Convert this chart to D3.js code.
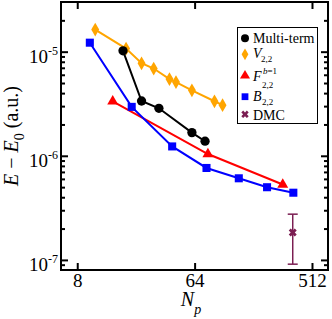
<!DOCTYPE html>
<html>
<head>
<meta charset="utf-8">
<script src="https://cdn.jsdelivr.net/npm/d3@7"></script>
<style>
  html, body { margin: 0; padding: 0; background: #fff; }
  svg { display: block; font-family: "Liberation Serif", "DejaVu Serif", serif; }
</style>
</head>
<body>
<svg id="chart" width="332" height="319"></svg>
<script>
// ---- Data ----
const multiN = [18, 25, 34, 61, 77];
const multiE = [1.02e-5, 3.36e-6, 2.86e-6, 1.67e-6, 1.38e-6];

const vN = [11, 19, 25, 31, 41, 46, 61, 91, 105];
const vE = [1.63e-5, 1.07e-5, 7.74e-6, 6.89e-6, 5.45e-6, 5.1e-6, 4.25e-6, 3.34e-6, 3.06e-6];

const fN = [15, 81, 305];
const fE = [3.34e-6, 1.04e-6, 5.3e-7];

const bN = [10, 21, 43, 79, 140, 231, 368];
const bE = [1.22e-5, 2.95e-6, 1.23e-6, 7.64e-7, 6.08e-7, 4.99e-7, 4.42e-7];

const dmcN = [364];
const dmcE = [1.83e-7];
const dmcErr = [0.92e-7];

const xTicks = [8, 64, 512];
const yTicks = [1e-7, 1e-6, 1e-5];
const yTickExp = ["-7", "-6", "-5"];

// ---- Layout ----
const svg = d3.select("#chart");
const M = { left: 61, right: 328, top: 2, bottom: 270 };

const x = d3.scaleLog().base(2).domain([6, 680]).range([M.left, M.right]);
const y = d3.scaleLog().domain([8e-8, 3e-5]).range([M.bottom, M.top]);

const yMinor = [];
[-8, -7, -6, -5].forEach((e) => {
  for (let k = 2; k <= 9; k++) {
    const v = k * Math.pow(10, e);
    if (v > 8e-8 && v < 3e-5) yMinor.push(v);
  }
});

// ---- Axes (ticks point inward) ----
const axisG = svg.append("g");

axisG.append("g")
  .attr("transform", `translate(0,${M.bottom})`)
  .call(d3.axisBottom(x).tickValues(xTicks).tickSizeInner(-7).tickSizeOuter(0).tickPadding(3.5).tickFormat(d3.format("d")))
  .call((g) => {
    g.select(".domain").remove();
    g.selectAll("text").attr("font-size", 19).attr("fill", "#000").attr("font-family", "Liberation Serif");
  });

axisG.append("g")
  .attr("transform", `translate(0,${M.top})`)
  .call(d3.axisTop(x).tickValues(xTicks).tickSizeInner(-7).tickSizeOuter(0).tickFormat(""))
  .call((g) => g.select(".domain").remove());

function yAxis(side, values, size) {
  const ax = side === "left" ? d3.axisLeft(y) : d3.axisRight(y);
  axisG.append("g")
    .attr("transform", `translate(${side === "left" ? M.left : M.right},0)`)
    .call(ax.tickValues(values).tickSizeInner(-size).tickSizeOuter(0).tickFormat(""))
    .call((g) => g.select(".domain").remove());
}
yAxis("left", yTicks, 7);
yAxis("right", yTicks, 7);
yAxis("left", yMinor, 4);
yAxis("right", yMinor, 4);

axisG.selectAll(".tick line").attr("stroke", "#000").attr("stroke-width", 2);

// y tick labels: 10 with superscript exponent
yTicks.forEach((v, i) => {
  svg.append("text")
    .attr("x", 48)
    .attr("y", y(v) + 11)
    .attr("text-anchor", "end")
    .attr("font-size", 19)
    .text("10");
  svg.append("text")
    .attr("x", 48)
    .attr("y", y(v) + 3)
    .attr("font-size", 12)
    .text(yTickExp[i]);
});

// frame
svg.append("rect")
  .attr("x", M.left).attr("y", M.top)
  .attr("width", M.right - M.left).attr("height", M.bottom - M.top)
  .attr("fill", "none").attr("stroke", "#000").attr("stroke-width", 2);

// ---- Axis titles ----
svg.append("text")
  .attr("transform", `translate(191,306)`)
  .attr("text-anchor", "middle")
  .attr("font-size", 20)
  .call((t) => {
    t.append("tspan").attr("font-style", "italic").text("N");
    t.append("tspan").attr("font-style", "italic").attr("font-size", 14).attr("dy", 8).text("p");
  });

svg.append("text")
  .attr("transform", `translate(18,136) rotate(-90)`)
  .attr("text-anchor", "middle")
  .attr("font-size", 20)
  .call((t) => {
    t.append("tspan").attr("font-style", "italic").text("E");
    t.append("tspan").text(" \u2212 ");
    t.append("tspan").attr("font-style", "italic").text("E");
    t.append("tspan").attr("font-size", 14).attr("dy", 6).text("0");
    t.append("tspan").attr("dy", -6).text(" (a.u.)");
  });

// ---- Series ----
const plot = svg.append("g");
const line = d3.line().x((d) => x(d[0])).y((d) => y(d[1]));

const series = [
  { n: vN, e: vE, color: "#ffa500", sym: d3.symbolDiamond, size: 42 },
  { n: fN, e: fE, color: "#ff0000", sym: d3.symbolTriangle, size: 40 },
  { n: bN, e: bE, color: "#0000ff", sym: d3.symbolSquare, size: 50 },
  { n: multiN, e: multiE, color: "#000000", sym: d3.symbolCircle, size: 52 },
];

series.forEach((s) => {
  const pts = s.n.map((n, i) => [n, s.e[i]]);
  plot.append("path")
    .attr("d", line(pts))
    .attr("fill", "none")
    .attr("stroke", s.color)
    .attr("stroke-width", 2);
  plot.selectAll(null)
    .data(pts)
    .join("path")
    .attr("transform", (d) => `translate(${x(d[0])},${y(d[1])})`)
    .attr("d", d3.symbol().type(s.sym).size(s.size * 1.3))
    .attr("fill", s.color);
});

// DMC with error bar
const dmcColor = "#7b1e52";
dmcN.forEach((n, i) => {
  const cx = x(n);
  const top = y(dmcE[i] + dmcErr[i]);
  const bot = y(dmcE[i] - dmcErr[i]);
  const g = plot.append("g").attr("stroke", dmcColor).attr("stroke-width", 1.5);
  g.append("line").attr("x1", cx).attr("x2", cx).attr("y1", top).attr("y2", bot);
  g.append("line").attr("x1", cx - 5).attr("x2", cx + 5).attr("y1", top).attr("y2", top);
  g.append("line").attr("x1", cx - 5).attr("x2", cx + 5).attr("y1", bot).attr("y2", bot);
  plot.append("path")
    .attr("transform", `translate(${cx},${y(dmcE[i])}) rotate(45)`)
    .attr("d", d3.symbol().type(d3.symbolCross).size(40))
    .attr("fill", dmcColor);
});

// ---- Legend ----
const leg = svg.append("g");
leg.append("rect")
  .attr("x", 237.5).attr("y", 27.5).attr("width", 80).attr("height", 96)
  .attr("fill", "#fff").attr("stroke", "#000").attr("stroke-width", 1);

const lx = 245, tx = 253;
const legItems = [
  { y: 38.3, sym: d3.symbolCircle, size: 50, color: "#000" },
  { y: 54.3, sym: d3.symbolDiamond, size: 40, color: "#ffa500" },
  { y: 75.7, sym: d3.symbolTriangle, size: 44, color: "#ff0000" },
  { y: 96.7, sym: d3.symbolSquare, size: 46, color: "#0000ff" },
];
legItems.forEach((it) => {
  leg.append("path")
    .attr("transform", `translate(${lx},${it.y})`)
    .attr("d", d3.symbol().type(it.sym).size(it.size))
    .attr("fill", it.color);
});
leg.append("path")
  .attr("transform", `translate(${lx},114.3) rotate(45)`)
  .attr("d", d3.symbol().type(d3.symbolCross).size(34))
  .attr("fill", dmcColor);

leg.append("text").attr("x", tx).attr("y", 43).attr("font-size", 14).text("Multi-term");
leg.append("text").attr("x", tx).attr("y", 57.5).attr("font-size", 14)
  .append("tspan").attr("font-style", "italic").text("V");
leg.append("text").attr("x", tx + 8).attr("y", 62).attr("font-size", 9).text("2,2");
leg.append("text").attr("x", tx).attr("y", 81).attr("font-size", 14)
  .append("tspan").attr("font-style", "italic").text("F");
leg.append("text").attr("x", tx + 10).attr("y", 73.5).attr("font-size", 9)
  .call((t) => {
    t.append("tspan").attr("font-style", "italic").text("b");
    t.append("tspan").text("=1");
  });
leg.append("text").attr("x", tx + 9).attr("y", 88).attr("font-size", 9).text("2,2");
leg.append("text").attr("x", tx).attr("y", 100.5).attr("font-size", 14)
  .append("tspan").attr("font-style", "italic").text("B");
leg.append("text").attr("x", tx + 9).attr("y", 105).attr("font-size", 9).text("2,2");
leg.append("text").attr("x", tx).attr("y", 120).attr("font-size", 14).text("DMC");
</script>
</body>
</html>
